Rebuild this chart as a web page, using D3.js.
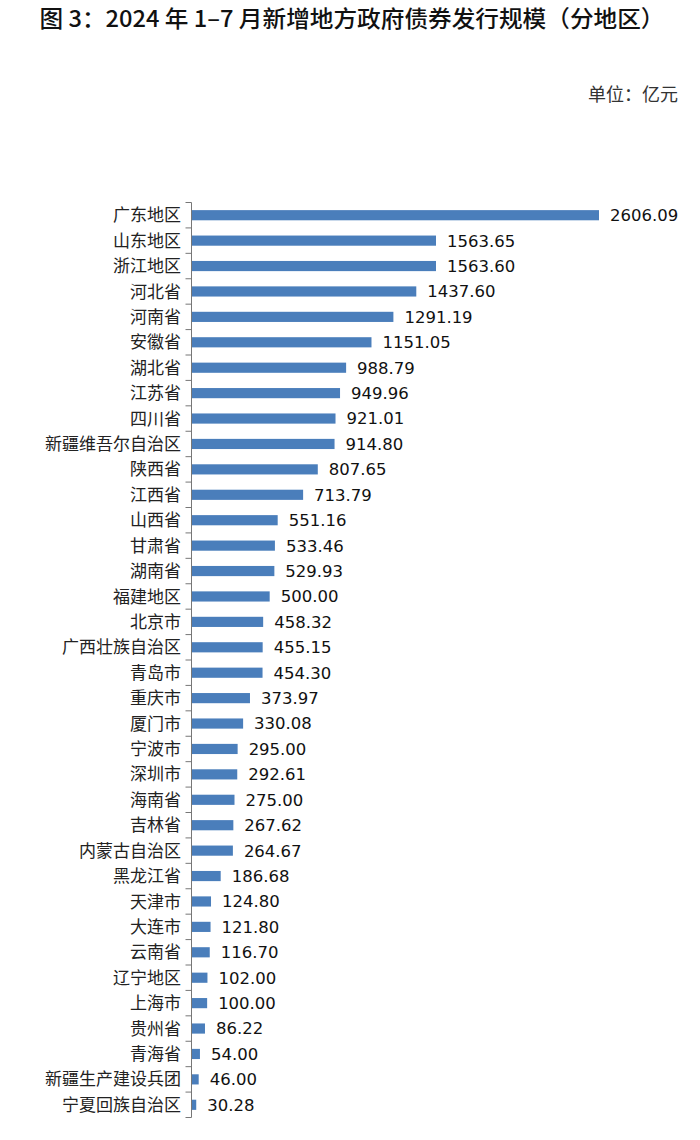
<!DOCTYPE html>
<html><head><meta charset="utf-8">
<script src="https://cdn.jsdelivr.net/npm/d3@7"></script>
<style>body{margin:0;background:#fff}</style>
</head><body>
<script>
const categories = ["广东地区","山东地区","浙江地区","河北省","河南省","安徽省","湖北省","江苏省","四川省","新疆维吾尔自治区","陕西省","江西省","山西省","甘肃省","湖南省","福建地区","北京市","广西壮族自治区","青岛市","重庆市","厦门市","宁波市","深圳市","海南省","吉林省","内蒙古自治区","黑龙江省","天津市","大连市","云南省","辽宁地区","上海市","贵州省","青海省","新疆生产建设兵团","宁夏回族自治区"];
const values = [2606.09,1563.65,1563.60,1437.60,1291.19,1151.05,988.79,949.96,921.01,914.80,807.65,713.79,551.16,533.46,529.93,500.00,458.32,455.15,454.30,373.97,330.08,295.00,292.61,275.00,267.62,264.67,186.68,124.80,121.80,116.70,102.00,100.00,86.22,54.00,46.00,30.28];
const title = "图 3：2024 年 1–7 月新增地方政府债券发行规模（分地区）";
const unitLabel = "单位：亿元";

const W = 700, H = 1140;
const svg = d3.select("body").append("svg").attr("width", W).attr("height", H);

svg.append("text").attr("x", 352).attr("y", 27).attr("text-anchor", "middle")
  .attr("font-family", "Noto Sans CJK SC").attr("font-weight", 500).attr("font-size", 23).attr("fill", "#111")
  .attr("textLength", 625).attr("lengthAdjust", "spacingAndGlyphs").text(title);

svg.append("text").attr("x", 678).attr("y", 101).attr("text-anchor", "end")
  .attr("font-family", "Noto Sans CJK SC").attr("font-size", 18).attr("fill", "#333").text(unitLabel);

const x0 = 191.5;
const yTop = 202.5, yBottom = 1117.5;
const x = d3.scaleLinear().domain([0, 2606.09]).range([x0, 599]);
const y = d3.scaleBand().domain(categories).range([yTop, yBottom]).paddingInner(0.6).paddingOuter(0.3);

// bars
svg.append("g").selectAll("rect").data(categories).join("rect")
  .attr("x", x0 + 0.5).attr("y", d => y(d))
  .attr("width", (d, i) => Math.max(0, x(values[i]) - x0 - 0.5))
  .attr("height", y.bandwidth()).attr("fill", "#4a7ebb");

// value labels
svg.append("g").selectAll("text").data(categories).join("text")
  .attr("x", (d, i) => x(values[i]) + 11).attr("y", d => y(d) + y.bandwidth() / 2)
  .attr("dy", "0.36em").attr("font-family", "DejaVu Sans").attr("font-size", 16.5).attr("fill", "#111")
  .text((d, i) => values[i].toFixed(2));

// category labels
svg.append("g").selectAll("text").data(categories).join("text")
  .attr("x", 181).attr("y", d => y(d) + y.bandwidth() / 2)
  .attr("dy", "0.36em").attr("text-anchor", "end").attr("font-family", "Noto Sans CJK SC")
  .attr("font-size", 17).attr("fill", "#222").text(d => d);

// axis line and boundary ticks
svg.append("line").attr("x1", x0).attr("x2", x0).attr("y1", yTop).attr("y2", yBottom)
  .attr("stroke", "#777").attr("stroke-width", 1);
const bounds = d3.range(categories.length + 1).map(i => yTop + i * (yBottom - yTop) / categories.length);
svg.append("g").selectAll("line").data(bounds).join("line")
  .attr("x1", x0 - 6).attr("x2", x0).attr("y1", d => d).attr("y2", d => d)
  .attr("stroke", "#777").attr("stroke-width", 1);
</script>
</body></html>
